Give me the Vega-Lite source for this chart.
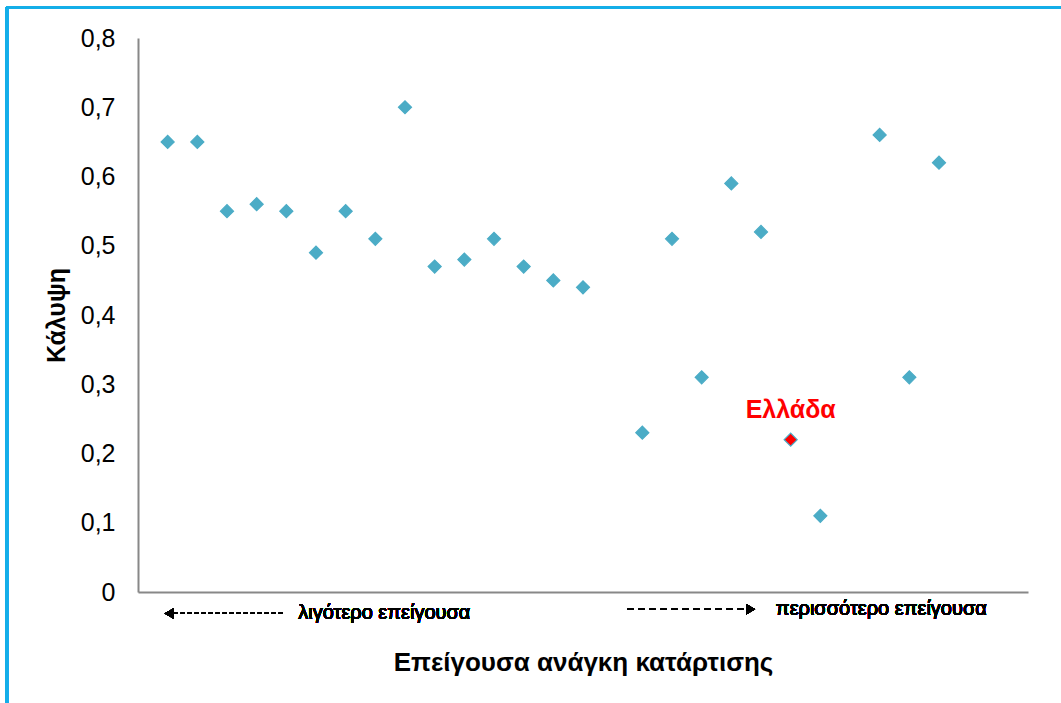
{
  "$schema": "https://vega.github.io/schema/vega-lite/v6.json",
  "width": 890,
  "height": 554,
  "autosize": {"type": "none"},
  "padding": {"left": 138, "top": 38, "right": 33, "bottom": 111},
  "background": "white",
  "config": {
    "view": {"stroke": null},
    "font": "Liberation Sans"
  },
  "data": {
    "values": [
      {"rank": 1, "coverage": 0.65, "group": "Άλλες χώρες"},
      {"rank": 2, "coverage": 0.65, "group": "Άλλες χώρες"},
      {"rank": 3, "coverage": 0.55, "group": "Άλλες χώρες"},
      {"rank": 4, "coverage": 0.56, "group": "Άλλες χώρες"},
      {"rank": 5, "coverage": 0.55, "group": "Άλλες χώρες"},
      {"rank": 6, "coverage": 0.49, "group": "Άλλες χώρες"},
      {"rank": 7, "coverage": 0.55, "group": "Άλλες χώρες"},
      {"rank": 8, "coverage": 0.51, "group": "Άλλες χώρες"},
      {"rank": 9, "coverage": 0.70, "group": "Άλλες χώρες"},
      {"rank": 10, "coverage": 0.47, "group": "Άλλες χώρες"},
      {"rank": 11, "coverage": 0.48, "group": "Άλλες χώρες"},
      {"rank": 12, "coverage": 0.51, "group": "Άλλες χώρες"},
      {"rank": 13, "coverage": 0.47, "group": "Άλλες χώρες"},
      {"rank": 14, "coverage": 0.45, "group": "Άλλες χώρες"},
      {"rank": 15, "coverage": 0.44, "group": "Άλλες χώρες"},
      {"rank": 17, "coverage": 0.23, "group": "Άλλες χώρες"},
      {"rank": 18, "coverage": 0.51, "group": "Άλλες χώρες"},
      {"rank": 19, "coverage": 0.31, "group": "Άλλες χώρες"},
      {"rank": 20, "coverage": 0.59, "group": "Άλλες χώρες"},
      {"rank": 21, "coverage": 0.52, "group": "Άλλες χώρες"},
      {"rank": 22, "coverage": 0.22, "group": "Ελλάδα"},
      {"rank": 23, "coverage": 0.11, "group": "Άλλες χώρες"},
      {"rank": 25, "coverage": 0.66, "group": "Άλλες χώρες"},
      {"rank": 26, "coverage": 0.31, "group": "Άλλες χώρες"},
      {"rank": 27, "coverage": 0.62, "group": "Άλλες χώρες"}
    ]
  },
  "layer": [
    {
      "mark": {"type": "point", "shape": "diamond", "filled": true, "size": 170, "stroke": "#4BACC6", "strokeWidth": 1.2, "opacity": 1},
      "encoding": {
        "x": {
          "field": "rank", "type": "quantitative",
          "scale": {"domain": [0, 30], "nice": false, "zero": false},
          "axis": {
            "title": "Επείγουσα ανάγκη κατάρτισης",
            "labels": false, "ticks": false, "grid": false,
            "domainColor": "#888888", "domainWidth": 2,
            "titleFont": "Liberation Sans", "titleFontSize": 26, "titleFontWeight": "bold",
            "titleColor": "black", "titlePadding": 57
          }
        },
        "y": {
          "field": "coverage", "type": "quantitative",
          "scale": {"domain": [0, 0.8], "nice": false},
          "axis": {
            "title": "Κάλυψη",
            "values": [0, 0.1, 0.2, 0.3, 0.4, 0.5, 0.6, 0.7, 0.8],
            "labelExpr": "datum.value == 0 ? '0' : replace(format(datum.value, '.1f'), '.', ',')",
            "ticks": false, "grid": false,
            "domainColor": "#888888", "domainWidth": 2,
            "labelFont": "Liberation Sans", "labelFontSize": 25, "labelColor": "black",
            "labelPadding": 23,
            "titleFont": "Liberation Sans", "titleFontSize": 25, "titleFontWeight": "bold",
            "titleColor": "black", "titleX": -74, "titleBaseline": "alphabetic"
          }
        },
        "fill": {
          "field": "group", "type": "nominal",
          "scale": {"domain": ["Άλλες χώρες", "Ελλάδα"], "range": ["#4BACC6", "#FF0000"]},
          "legend": null
        }
      }
    },
    {
      "transform": [{"filter": "datum.group == 'Ελλάδα'"}],
      "mark": {"type": "text", "dy": -30, "fontSize": 25, "fontWeight": "bold", "color": "#FF0000", "font": "Liberation Sans"},
      "encoding": {
        "x": {"field": "rank", "type": "quantitative"},
        "y": {"field": "coverage", "type": "quantitative"},
        "text": {"field": "group"}
      }
    },
    {
      "mark": {"type": "rule", "color": "black", "strokeWidth": 1.2, "strokeDash": [4, 3]},
      "encoding": {"x": {"datum": 1.2}, "x2": {"datum": 4.95}, "y": {"datum": -0.031}}
    },
    {
      "mark": {"type": "point", "shape": "triangle-left", "filled": true, "color": "black", "size": 110, "opacity": 1},
      "encoding": {"x": {"datum": 1.05}, "y": {"datum": -0.031}}
    },
    {
      "mark": {"type": "text", "align": "left", "baseline": "middle", "fontSize": 20, "font": "Liberation Sans", "fontWeight": "normal", "color": "black"},
      "encoding": {"x": {"datum": 5.4}, "y": {"datum": -0.031}, "text": {"value": "λιγότερο επείγουσα"}}
    },
    {
      "mark": {"type": "rule", "color": "black", "strokeWidth": 1.2, "strokeDash": [6, 5]},
      "encoding": {"x": {"datum": 16.5}, "x2": {"datum": 20.5}, "y": {"datum": -0.025}}
    },
    {
      "mark": {"type": "point", "shape": "triangle-right", "filled": true, "color": "black", "size": 110, "opacity": 1},
      "encoding": {"x": {"datum": 20.65}, "y": {"datum": -0.025}}
    },
    {
      "mark": {"type": "text", "align": "left", "baseline": "middle", "fontSize": 20, "font": "Liberation Sans", "fontWeight": "normal", "color": "black"},
      "encoding": {"x": {"datum": 21.5}, "y": {"datum": -0.025}, "text": {"value": "περισσότερο επείγουσα"}}
    },
    {
      "mark": {"type": "rule", "color": "#14AEE8", "strokeWidth": 2.5},
      "encoding": {"x": {"datum": -4.42}, "y": {"datum": 0.8445}, "y2": {"datum": -0.3}}
    },
    {
      "mark": {"type": "rule", "color": "#14AEE8", "strokeWidth": 2.5},
      "encoding": {"x": {"datum": -4.42}, "x2": {"datum": 34}, "y": {"datum": 0.8445}}
    }
  ]
}
